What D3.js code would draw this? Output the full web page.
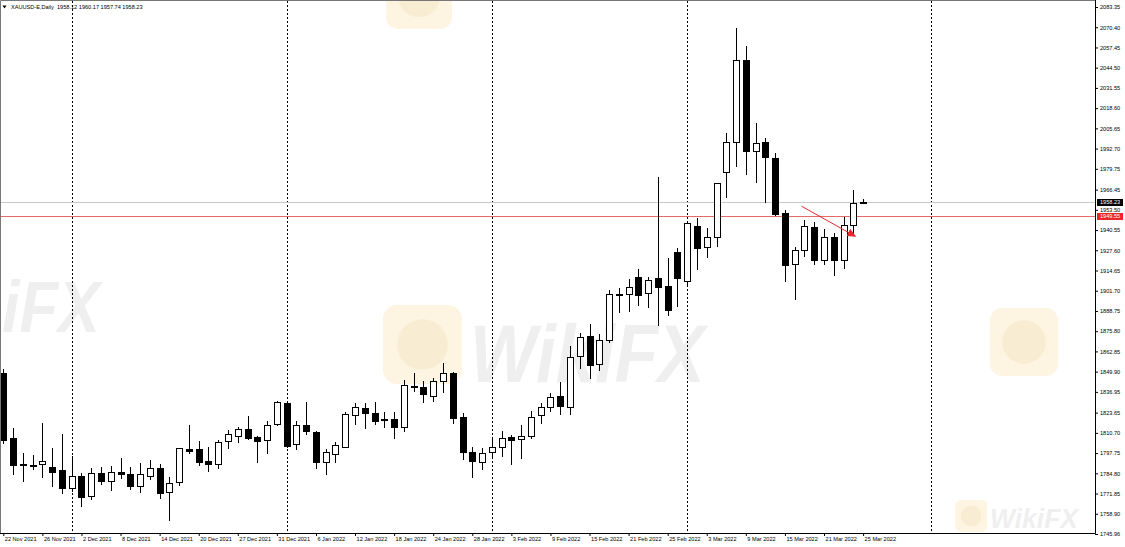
<!DOCTYPE html>
<html>
<head>
<meta charset="utf-8">
<script src="https://cdn.jsdelivr.net/npm/d3@7"></script>
<style>
  body { margin: 0; background: #fff; }
  svg { display: block; font-family: "Liberation Sans", Arial, sans-serif; }
</style>
</head>
<body>
<svg id="chart"></svg>
<script>
// XAUUSD-E daily bars, 22 Nov 2021 .. 25 Mar 2022
const opens = [
  1849.0, 1807.4, 1790.5, 1790.4, 1791.0, 1788.7, 1786.9, 1775.6, 1783.1, 1770.5,
  1784.8, 1780.1, 1785.9, 1784.4, 1776.9, 1783.3, 1788.0, 1773.1, 1779.5, 1800.2,
  1800.2, 1792.7, 1790.6, 1805.5, 1808.7, 1813.0, 1807.9, 1806.0, 1816.2, 1830.0,
  1803.4, 1815.6, 1811.3, 1792.3, 1797.0, 1801.8, 1822.0, 1826.8, 1823.2, 1819.5,
  1819.8, 1814.7, 1840.9, 1839.9, 1834.3, 1843.9, 1848.9, 1820.9, 1798.5, 1791.9,
  1798.7, 1801.8, 1807.9, 1806.6, 1808.5, 1822.0, 1827.5, 1834.3, 1827.5, 1859.9,
  1872.7, 1854.8, 1870.2, 1899.3, 1899.4, 1910.3, 1900.1, 1909.7, 1904.7, 1926.5,
  1908.1, 1943.2, 1929.5, 1935.9, 1977.5, 1996.7, 2049.4, 1991.2, 1997.1, 1986.5,
  1951.7, 1918.6, 1927.8, 1942.7, 1921.4, 1935.9, 1921.4, 1943.8, 1958.12
];
const highs = [
  1851.6, 1813.8, 1797.8, 1796.5, 1817.2, 1801.0, 1810.0, 1795.9, 1785.0, 1788.0,
  1788.7, 1789.5, 1794.8, 1789.1, 1791.2, 1793.3, 1790.8, 1782.7, 1801.2, 1815.8,
  1805.5, 1801.9, 1806.1, 1812.6, 1814.7, 1821.5, 1809.0, 1818.5, 1831.3, 1831.4,
  1818.3, 1830.7, 1812.1, 1800.2, 1805.1, 1824.3, 1829.7, 1829.7, 1830.7, 1823.9,
  1824.3, 1844.6, 1849.2, 1844.1, 1845.6, 1855.3, 1849.9, 1823.6, 1801.5, 1800.8,
  1808.0, 1811.9, 1809.4, 1815.8, 1824.9, 1830.0, 1836.4, 1843.5, 1866.3, 1874.8,
  1880.4, 1874.0, 1902.2, 1903.3, 1909.0, 1915.4, 1910.7, 1974.3, 1922.5, 1928.9,
  1945.9, 1948.1, 1941.7, 1970.5, 2002.5, 2069.7, 2058.4, 2008.9, 1999.3, 1989.7,
  1953.4, 1929.9, 1947.0, 1945.9, 1941.0, 1938.5, 1949.1, 1966.2, 1960.17
];
const lows = [
  1803.6, 1783.8, 1779.3, 1787.0, 1781.8, 1776.3, 1771.4, 1773.1, 1763.4, 1767.7,
  1777.3, 1773.5, 1781.2, 1774.1, 1772.0, 1780.5, 1768.2, 1754.3, 1776.7, 1797.2,
  1789.5, 1785.9, 1787.4, 1800.2, 1804.0, 1806.1, 1791.2, 1797.2, 1815.1, 1800.8,
  1799.7, 1809.4, 1787.6, 1783.8, 1791.6, 1801.8, 1815.8, 1813.2, 1815.8, 1814.0,
  1806.8, 1811.5, 1837.1, 1829.7, 1830.7, 1836.0, 1816.2, 1793.4, 1781.6, 1787.0,
  1795.5, 1795.5, 1790.2, 1793.8, 1807.0, 1816.4, 1824.3, 1822.2, 1822.2, 1851.4,
  1845.3, 1850.5, 1868.4, 1887.6, 1888.3, 1891.9, 1890.5, 1879.1, 1885.5, 1891.5,
  1905.4, 1915.0, 1922.5, 1929.5, 1960.9, 1981.1, 1975.8, 1970.5, 1958.1, 1949.6,
  1907.5, 1895.8, 1923.5, 1918.2, 1918.2, 1911.1, 1915.4, 1937.8, 1957.74
];
const closes = [
  1806.2, 1790.2, 1789.9, 1790.0, 1792.7, 1785.8, 1775.6, 1783.1, 1769.9, 1784.8,
  1780.1, 1785.5, 1784.2, 1776.9, 1784.4, 1788.0, 1772.0, 1778.4, 1800.8, 1799.1,
  1792.3, 1790.6, 1804.7, 1809.8, 1813.0, 1807.3, 1805.5, 1815.8, 1830.3, 1802.3,
  1815.8, 1811.7, 1792.3, 1798.5, 1803.0, 1822.8, 1827.1, 1823.6, 1818.5, 1819.8,
  1814.7, 1841.2, 1840.6, 1835.4, 1844.1, 1848.9, 1820.4, 1798.3, 1792.9, 1798.0,
  1801.9, 1807.6, 1806.1, 1808.7, 1821.1, 1827.1, 1833.9, 1827.7, 1859.5, 1871.9,
  1854.2, 1870.2, 1899.6, 1898.8, 1904.3, 1899.0, 1908.6, 1904.3, 1889.4, 1909.7,
  1945.3, 1928.9, 1935.9, 1970.5, 1997.1, 2049.4, 1991.4, 1996.1, 1987.5, 1950.8,
  1918.2, 1927.8, 1943.1, 1921.4, 1935.9, 1921.4, 1943.8, 1958.1, 1958.23
];

// one date label every 4 bars
const dateLabels = [
  "22 Nov 2021", "26 Nov 2021", "2 Dec 2021", "8 Dec 2021", "14 Dec 2021", "20 Dec 2021",
  "27 Dec 2021", "31 Dec 2021", "6 Jan 2022", "12 Jan 2022", "18 Jan 2022", "24 Jan 2022",
  "28 Jan 2022", "3 Feb 2022", "9 Feb 2022", "15 Feb 2022", "21 Feb 2022", "25 Feb 2022",
  "3 Mar 2022", "9 Mar 2022", "15 Mar 2022", "21 Mar 2022", "25 Mar 2022"
];
const dateTickIdx = dateLabels.map((d, i) => i * 4);
const separatorIdx = [7, 29, 50, 70, 95];   // month starts

const priceTicks = [
  2083.35, 2070.40, 2057.45, 2044.50, 2031.55, 2018.60, 2005.65, 1992.70, 1979.75,
  1966.45, 1953.50, 1940.55, 1927.60, 1914.65, 1901.70, 1888.75, 1875.80, 1862.85,
  1849.90, 1836.95, 1823.65, 1810.70, 1797.75, 1784.80, 1771.85, 1758.90, 1745.96
];
const bidPrice = 1958.23;
const levelPrice = 1949.55;
const arrowFrom = [81.7, 1955.8];
const arrowTo = [87.2, 1936.6];
const title = "XAUUSD-E,Daily  1958.12 1960.17 1957.74 1958.23";

const width = 1125, height = 547;
const plotRight = 1095, plotBottom = 533;
const fontSize = "5.6px";

const svg = d3.select("#chart").attr("width", width).attr("height", height);
svg.append("rect").attr("width", width).attr("height", height).attr("fill", "#fff");

const x = d3.scaleLinear().domain([0, 88]).range([3.3, 863.1]);
const y = d3.scaleLinear().domain([1745.96, 2083.35]).range([534, 7]);

svg.append("clipPath").attr("id", "plotClip").append("rect")
  .attr("x", 0).attr("y", 0).attr("width", plotRight).attr("height", plotBottom);

// watermarks
let wm = svg.append("g").attr("clip-path", "url(#plotClip)");
function logo(x0, y0, s) {
  wm.append("rect").attr("x", x0).attr("y", y0).attr("width", s).attr("height", s)
    .attr("rx", s * 0.18).attr("fill", "#fdf5e1");
  wm.append("circle").attr("cx", x0 + s / 2).attr("cy", y0 + s / 2).attr("r", s * 0.32)
    .attr("fill", "#f8ecd2");
}
function mark(txt, tx, ty, size, len) {
  wm.append("text").attr("x", tx).attr("y", ty)
    .attr("font-size", size).attr("font-weight", "bold").attr("font-style", "italic")
    .attr("textLength", len).attr("lengthAdjust", "spacingAndGlyphs")
    .attr("fill", "#efefef").text(txt);
}
logo(383, 305, 79);
mark("WikiFX", 470, 382, 82, 235);
mark("iFX", 2, 332, 72, 98);
logo(990, 308, 68);
logo(386, -37, 66);
logo(955, 500, 32);
mark("WikiFX", 990, 528, 28, 88);

// month separators
svg.append("g").selectAll("line").data(separatorIdx).join("line")
  .attr("x1", d => Math.round(x(d)) + 0.5).attr("x2", d => Math.round(x(d)) + 0.5)
  .attr("y1", 1).attr("y2", plotBottom)
  .attr("stroke", "#000").attr("stroke-dasharray", "2,2");

// price lines
svg.append("line").attr("x1", 0).attr("x2", plotRight)
  .attr("y1", Math.round(y(bidPrice)) + 0.5).attr("y2", Math.round(y(bidPrice)) + 0.5)
  .attr("stroke", "#c8c8c8");
svg.append("line").attr("x1", 0).attr("x2", plotRight)
  .attr("y1", Math.round(y(levelPrice)) + 0.5).attr("y2", Math.round(y(levelPrice)) + 0.5)
  .attr("stroke", "#e46a6a");

// candles
const bars = opens.map((o, i) => ({ i: i, o: o, h: highs[i], l: lows[i], c: closes[i] }));
const cg = svg.append("g").attr("clip-path", "url(#plotClip)");
cg.selectAll("line.wick").data(bars).join("line").attr("class", "wick")
  .attr("x1", d => Math.round(x(d.i)) + 0.5).attr("x2", d => Math.round(x(d.i)) + 0.5)
  .attr("y1", d => Math.round(y(d.h))).attr("y2", d => Math.round(y(d.l)))
  .attr("stroke", "#000");
cg.selectAll("rect.body").data(bars).join("rect").attr("class", "body")
  .attr("x", d => Math.round(x(d.i)) - 2.5)
  .attr("y", d => Math.round(y(Math.max(d.o, d.c))) + 0.5)
  .attr("width", 6)
  .attr("height", d => Math.max(1, Math.round(y(Math.min(d.o, d.c))) - Math.round(y(Math.max(d.o, d.c)))))
  .attr("fill", d => d.c >= d.o ? "#fff" : "#000")
  .attr("stroke", "#000");

// red arrow
svg.append("defs").append("marker").attr("id", "head")
  .attr("markerUnits", "userSpaceOnUse").attr("markerWidth", 9).attr("markerHeight", 8)
  .attr("refX", 8).attr("refY", 4).attr("orient", "auto")
  .append("path").attr("d", "M0,0L9,4L0,8Z").attr("fill", "#e8272a");
svg.append("line")
  .attr("x1", x(arrowFrom[0])).attr("y1", y(arrowFrom[1]))
  .attr("x2", x(arrowTo[0])).attr("y2", y(arrowTo[1]))
  .attr("stroke", "#e8272a").attr("marker-end", "url(#head)");

// frame
svg.append("path")
  .attr("d", `M0.5,${plotBottom + 0.5}V0.5H${plotRight + 0.5}`)
  .attr("fill", "none").attr("stroke", "#777");
svg.append("path")
  .attr("d", `M0,${plotBottom + 0.5}H${plotRight + 0.5}V0`)
  .attr("fill", "none").attr("stroke", "#000");

// date axis
const gx = svg.append("g").attr("transform", `translate(0,${plotBottom})`)
  .call(d3.axisBottom(x).tickValues(dateTickIdx).tickFormat((d, i) => dateLabels[i]).tickSize(3).tickSizeOuter(0));
gx.select(".domain").remove();
gx.selectAll("text").attr("text-anchor", "start").attr("x", 1).attr("y", 4)
  .style("font-size", fontSize).attr("fill", "#000");

// price axis
const gy = svg.append("g").attr("transform", `translate(${plotRight},0)`)
  .call(d3.axisRight(y).tickValues(priceTicks).tickFormat(d3.format(".2f")).tickSize(3).tickSizeOuter(0));
gy.select(".domain").remove();
gy.selectAll("text").attr("x", 5).style("font-size", fontSize).attr("fill", "#000");

// price tags
[[bidPrice, "#000"], [levelPrice, "#e8272a"]].forEach(p => {
  const yy = Math.round(y(p[0]));
  svg.append("rect").attr("x", plotRight + 2).attr("y", yy - 3).attr("width", 26).attr("height", 7)
    .attr("fill", p[1]);
  svg.append("text").attr("x", plotRight + 5).attr("y", yy + 0.5).attr("dy", "0.35em")
    .style("font-size", fontSize).attr("fill", "#fff").text(p[0].toFixed(2));
});

// title
svg.append("path").attr("d", "M2.5,5.5L6.5,5.5L4.5,8.5Z").attr("fill", "#000");
svg.append("text").attr("x", 11).attr("y", 9).style("font-size", fontSize).attr("fill", "#000")
  .attr("xml:space", "preserve").text(title);
</script>
</body>
</html>
